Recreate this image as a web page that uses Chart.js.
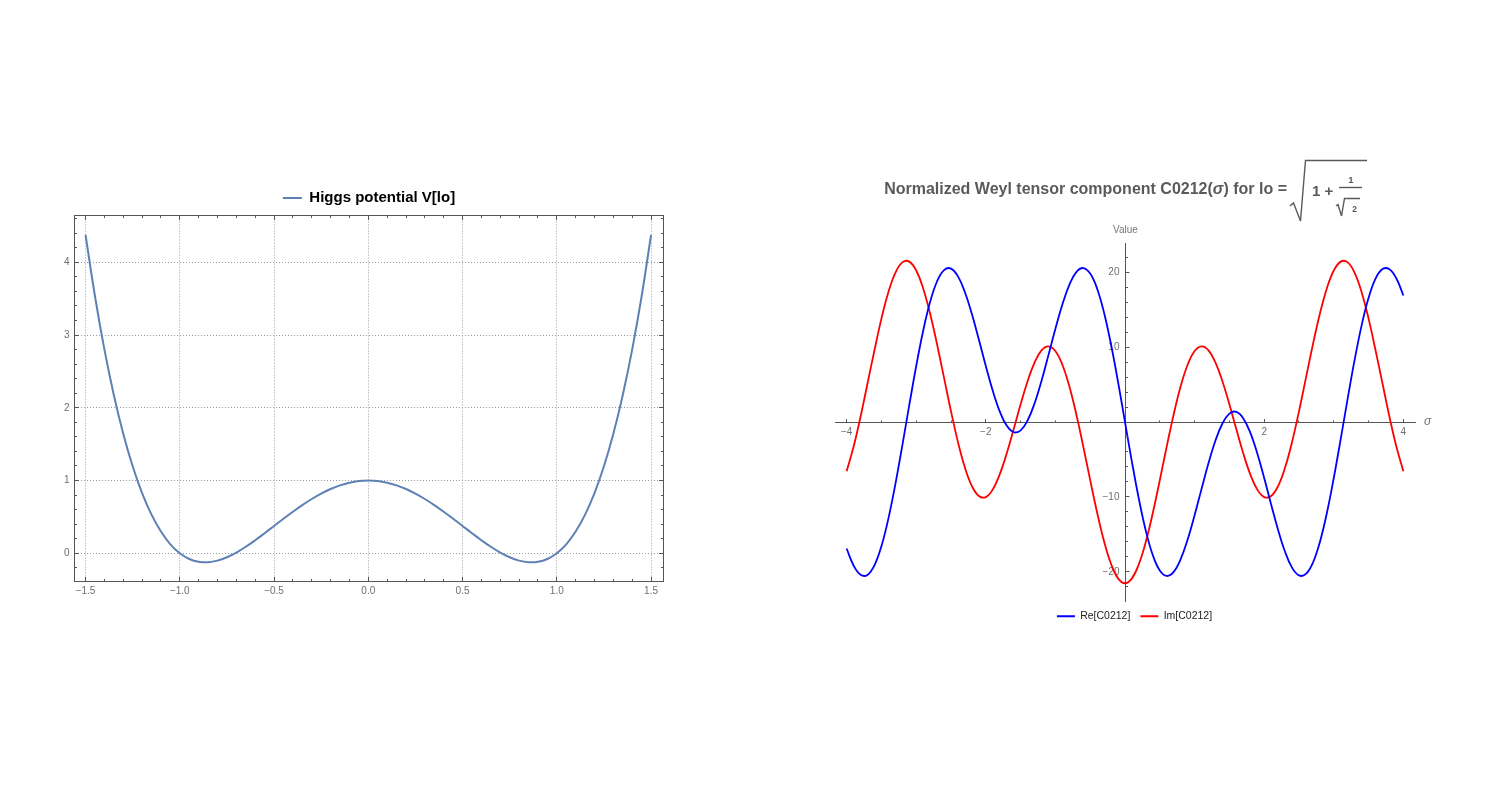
<!DOCTYPE html>
<html>
<head>
<meta charset="utf-8">
<title>Higgs potential and Weyl tensor component</title>
<script src="https://cdn.jsdelivr.net/npm/chart.js@4.4.0/dist/chart.umd.min.js"></script>
<style>
  html, body { margin: 0; padding: 0; background: #fff; }
  body { width: 1500px; height: 787px; position: relative; overflow: hidden; }
  canvas { position: absolute; top: 0; }
  #higgsChart { left: 0; }
  #weylChart { left: 750px; }
  #weylTitle { position: absolute; left: 0; top: 0; pointer-events: none; }
</style>
</head>
<body>
<canvas id="higgsChart" width="750" height="787"></canvas>
<canvas id="weylChart" width="750" height="787"></canvas>
<svg id="weylTitle" width="1500" height="787">
  <g fill="#5a5a5a" font-family="'Liberation Sans', Arial, sans-serif" font-weight="bold">
    <text x="1287" y="194" font-size="16" text-anchor="end">Normalized Weyl tensor component C0212(<tspan font-style="italic">σ</tspan>) for lo =</text>
    <text x="1312" y="195.5" font-size="15">1 +</text>
    <text x="1351" y="183" font-size="9.5" text-anchor="middle">1</text>
    <text x="1354.5" y="212" font-size="8.5" text-anchor="middle">2</text>
  </g>
  <g stroke="#5a5a5a" fill="none" stroke-width="1.4">
    <path d="M1290 206 L1293.5 203 L1300.5 221 L1305.5 160.5 L1367 160.5"/>
    <path d="M1339 187.5 H1362"/>
    <path d="M1336 206 L1338 204.5 L1341.5 216 L1344.5 198.5 H1360"/>
  </g>
</svg>
<script>
// ===================================
// Data
// ===================================
const higgsX = [
  -1.5, -1.45, -1.4, -1.35, -1.3, -1.25, -1.2, -1.15, -1.1, -1.05,
  -1.0, -0.95, -0.9, -0.85, -0.8, -0.75, -0.7, -0.65, -0.6, -0.55,
  -0.5, -0.45, -0.4, -0.35, -0.3, -0.25, -0.2, -0.15, -0.1, -0.05,
  0.0, 0.05, 0.1, 0.15, 0.2, 0.25, 0.3, 0.35, 0.4, 0.45,
  0.5, 0.55, 0.6, 0.65, 0.7, 0.75, 0.8, 0.85, 0.9, 0.95,
  1.0, 1.05, 1.1, 1.15, 1.2, 1.25, 1.3, 1.35, 1.4, 1.45, 1.5,
];
const higgsV = [
  4.375, 3.5335, 2.8032, 2.1755, 1.6422, 1.1953, 0.8272, 0.5305, 0.2982, 0.1235,
  0.0, -0.0785, -0.1178, -0.1235, -0.1008, -0.0547, 0.0102, 0.0895, 0.1792, 0.2755,
  0.375, 0.4745, 0.5712, 0.6625, 0.7462, 0.8203, 0.8832, 0.9335, 0.9702, 0.9925,
  1.0, 0.9925, 0.9702, 0.9335, 0.8832, 0.8203, 0.7462, 0.6625, 0.5712, 0.4745,
  0.375, 0.2755, 0.1792, 0.0895, 0.0102, -0.0547, -0.1008, -0.1235, -0.1178, -0.0785,
  0.0, 0.1235, 0.2982, 0.5305, 0.8272, 1.1953, 1.6422, 2.1755, 2.8032, 3.5335, 4.375,
];
const higgsXTicks = [-1.5, -1.0, -0.5, 0.0, 0.5, 1.0, 1.5];
const higgsYTicks = [0, 1, 2, 3, 4];

const sigma = [
  -4.0, -3.9, -3.8, -3.7, -3.6, -3.5, -3.4, -3.3, -3.2, -3.1,
  -3.0, -2.9, -2.8, -2.7, -2.6, -2.5, -2.4, -2.3, -2.2, -2.1,
  -2.0, -1.9, -1.8, -1.7, -1.6, -1.5, -1.4, -1.3, -1.2, -1.1,
  -1.0, -0.9, -0.8, -0.7, -0.6, -0.5, -0.4, -0.3, -0.2, -0.1,
  0.0, 0.1, 0.2, 0.3, 0.4, 0.5, 0.6, 0.7, 0.8, 0.9,
  1.0, 1.1, 1.2, 1.3, 1.4, 1.5, 1.6, 1.7, 1.8, 1.9,
  2.0, 2.1, 2.2, 2.3, 2.4, 2.5, 2.6, 2.7, 2.8, 2.9,
  3.0, 3.1, 3.2, 3.3, 3.4, 3.5, 3.6, 3.7, 3.8, 3.9, 4.0,
];
const reC0212 = [
  -16.87, -19.13, -20.37, -20.39, -19.12, -16.56, -12.88, -8.31, -3.14, 2.24,
  7.47, 12.17, 16.02, 18.77, 20.26, 20.46, 19.42, 17.31, 14.39, 10.99,
  7.46, 4.16, 1.42, -0.48, -1.35, -1.12, 0.2, 2.47, 5.48, 8.92,
  12.44, 15.68, 18.3, 19.99, 20.53, 19.8, 17.77, 14.54, 10.3, 5.34,
  0.0, -5.34, -10.3, -14.54, -17.77, -19.8, -20.53, -19.99, -18.3, -15.68,
  -12.44, -8.92, -5.48, -2.47, -0.2, 1.12, 1.35, 0.48, -1.42, -4.16,
  -7.46, -10.99, -14.39, -17.31, -19.42, -20.46, -20.26, -18.77, -16.02, -12.17,
  -7.47, -2.24, 3.14, 8.31, 12.88, 16.56, 19.12, 20.39, 20.37, 19.13, 16.87,
];
const imC0212 = [
  -6.57, -3.31, 0.7, 5.13, 9.56, 13.79, 17.31, 19.88, 21.28, 21.39,
  20.2, 17.81, 14.43, 10.34, 5.88, 1.42, -2.68, -6.08, -8.54, -9.87,
  -10.01, -9.0, -6.98, -4.21, -0.98, 2.36, 5.44, 7.93, 9.55, 10.09,
  9.46, 7.64, 4.77, 1.04, -3.25, -7.76, -12.11, -15.94, -18.94, -20.85,
  -21.5, -20.85, -18.94, -15.94, -12.11, -7.76, -3.25, 1.04, 4.77, 7.64,
  9.46, 10.09, 9.55, 7.93, 5.44, 2.36, -0.98, -4.21, -6.98, -9.0,
  -10.01, -9.87, -8.54, -6.08, -2.68, 1.42, 5.88, 10.34, 14.43, 17.81,
  20.2, 21.39, 21.28, 19.88, 17.31, 13.79, 9.56, 5.13, 0.7, -3.31, -6.57,
];
const weylXTicks = [-4, -2, 2, 4];
const weylYTicks = [-20, -10, 10, 20];

// ===================================
// Helpers
// ===================================
Chart.defaults.font.family = '"Liberation Sans", Arial, sans-serif';

function formatTick(value, digits) {
  const text = Math.abs(value).toFixed(digits);
  return value < 0 ? "\u2212" + text : text;
}

function toPoints(xs, ys) {
  return xs.map((x, i) => ({ x: x, y: ys[i] }));
}

const TICK_COLOR = "#6e6e6e";
const AXIS_COLOR = "#555555";

// Mathematica style frame with inward ticks on all four sides
const higgsFrame = {
  id: "higgsFrame",
  afterDraw(chart) {
    const { ctx, chartArea: area } = chart;
    const xs = chart.scales.x;
    const ys = chart.scales.y;
    ctx.save();
    ctx.strokeStyle = AXIS_COLOR;
    ctx.lineWidth = 1;
    ctx.strokeRect(area.left, area.top, area.right - area.left, area.bottom - area.top);
    ctx.beginPath();
    for (let k = -15; k <= 15; k++) {
      const px = Math.round(xs.getPixelForValue(k / 10) - 0.5) + 0.5;
      const len = k % 5 === 0 ? 4.5 : 2.5;
      ctx.moveTo(px, area.bottom);
      ctx.lineTo(px, area.bottom - len);
      ctx.moveTo(px, area.top);
      ctx.lineTo(px, area.top + len);
    }
    for (let k = -1; k <= 23; k++) {
      const py = Math.round(ys.getPixelForValue(k / 5) - 0.5) + 0.5;
      const len = k % 5 === 0 ? 4.5 : 2.5;
      ctx.moveTo(area.left, py);
      ctx.lineTo(area.left + len, py);
      ctx.moveTo(area.right, py);
      ctx.lineTo(area.right - len, py);
    }
    ctx.stroke();
    ctx.restore();
  },
};

// Ticks on the centred axes plus the axis labels
const weylAxesDecor = {
  id: "weylAxesDecor",
  afterDraw(chart) {
    const { ctx, chartArea: area } = chart;
    const xs = chart.scales.x;
    const ys = chart.scales.y;
    const x0 = Math.round(xs.getPixelForValue(0) - 0.5) + 0.5;
    const y0 = Math.round(ys.getPixelForValue(0) - 0.5) + 0.5;
    ctx.save();
    ctx.strokeStyle = AXIS_COLOR;
    ctx.lineWidth = 1;
    ctx.beginPath();
    for (let k = -8; k <= 8; k++) {
      if (k === 0) continue;
      const px = Math.round(xs.getPixelForValue(k / 2) - 0.5) + 0.5;
      const len = k % 4 === 0 ? 3.5 : 2;
      ctx.moveTo(px, y0);
      ctx.lineTo(px, y0 - len);
    }
    for (let k = -11; k <= 11; k++) {
      if (k === 0) continue;
      const py = Math.round(ys.getPixelForValue(k * 2) - 0.5) + 0.5;
      const len = k % 5 === 0 ? 4 : 2.5;
      ctx.moveTo(x0, py);
      ctx.lineTo(x0 + len, py);
    }
    ctx.stroke();

    ctx.fillStyle = "#777777";
    ctx.textBaseline = "middle";
    ctx.textAlign = "center";
    ctx.font = '10px "Liberation Sans", Arial, sans-serif';
    ctx.fillText("Value", x0, area.top - 13);
    ctx.textAlign = "left";
    ctx.font = 'italic 12px "Liberation Sans", Arial, sans-serif';
    ctx.fillText("σ", area.right + 9, y0 - 1);
    ctx.restore();
  },
};

// ===================================
// Higgs potential chart
// ===================================
new Chart(document.getElementById("higgsChart"), {
  type: "line",
  data: {
    datasets: [
      {
        label: "Higgs potential V[lo]",
        data: toPoints(higgsX, higgsV),
        borderColor: "#5E81B5",
        backgroundColor: "#5E81B5",
        borderWidth: 2,
        pointRadius: 0,
        tension: 0.4,
        fill: false,
      },
    ],
  },
  options: {
    responsive: false,
    animation: false,
    layout: { padding: { left: 40, right: 52, top: 180.5, bottom: 180.5 } },
    plugins: {
      legend: {
        position: "top",
        labels: {
          boxWidth: 19,
          boxHeight: 0,
          padding: 10,
          color: "#000000",
          font: { size: 15, weight: "bold" },
        },
      },
      tooltip: { enabled: false },
    },
    scales: {
      x: {
        type: "linear",
        min: -1.5586,
        max: 1.566,
        afterBuildTicks: (scale) => {
          scale.ticks = higgsXTicks.map((v) => ({ value: v }));
        },
        afterFit: (scale) => {
          scale.height = 25;
        },
        grid: { color: "#9a9a9a", drawTicks: false },
        border: { display: false, dash: [1, 2] },
        ticks: {
          padding: 4,
          color: TICK_COLOR,
          font: { size: 10 },
          maxRotation: 0,
          autoSkip: false,
          callback: (v) => formatTick(v, 1),
        },
      },
      y: {
        type: "linear",
        min: -0.388,
        max: 4.643,
        afterBuildTicks: (scale) => {
          scale.ticks = higgsYTicks.map((v) => ({ value: v }));
        },
        afterFit: (scale) => {
          scale.width = 34.5;
        },
        grid: { color: "#9a9a9a", drawTicks: false },
        border: { display: false, dash: [1, 2] },
        ticks: {
          padding: 5,
          color: TICK_COLOR,
          font: { size: 10 },
          callback: (v) => formatTick(v, 0),
        },
      },
      y2: {
        type: "linear",
        position: "right",
        afterFit: (scale) => {
          scale.width = 34.5;
        },
        grid: { display: false },
        border: { display: false },
        ticks: { display: false },
      },
    },
  },
  plugins: [higgsFrame],
});

// ===================================
// Weyl tensor component chart
// ===================================
new Chart(document.getElementById("weylChart"), {
  type: "line",
  data: {
    datasets: [
      {
        label: "Re[C0212]",
        data: toPoints(sigma, reC0212),
        borderColor: "#0000FF",
        backgroundColor: "#0000FF",
        borderWidth: 1.8,
        pointRadius: 0,
        tension: 0.4,
        fill: false,
      },
      {
        label: "Im[C0212]",
        data: toPoints(sigma, imC0212),
        borderColor: "#FF0000",
        backgroundColor: "#FF0000",
        borderWidth: 1.8,
        pointRadius: 0,
        tension: 0.4,
        fill: false,
      },
    ],
  },
  options: {
    responsive: false,
    animation: false,
    layout: { padding: { left: 85, right: 66, top: 243, bottom: 155.5 } },
    plugins: {
      legend: {
        position: "bottom",
        labels: {
          boxWidth: 18,
          boxHeight: 0,
          padding: 10,
          color: "#222222",
          font: { size: 10.5 },
        },
      },
      tooltip: { enabled: false },
    },
    scales: {
      x: {
        type: "linear",
        position: { y: 0 },
        min: -4.167,
        max: 4.167,
        afterBuildTicks: (scale) => {
          scale.ticks = weylXTicks.map((v) => ({ value: v }));
        },
        afterFit: (scale) => {
          scale.height = 0;
        },
        grid: { display: false, drawTicks: false },
        border: { display: true, color: AXIS_COLOR, width: 1 },
        ticks: {
          padding: 4,
          color: TICK_COLOR,
          font: { size: 10 },
          maxRotation: 0,
          autoSkip: false,
          callback: (v) => formatTick(v, 0),
        },
      },
      y: {
        type: "linear",
        position: { x: 0 },
        min: -23.87,
        max: 23.87,
        afterBuildTicks: (scale) => {
          scale.ticks = weylYTicks.map((v) => ({ value: v }));
        },
        afterFit: (scale) => {
          scale.width = 0;
        },
        grid: { display: false, drawTicks: false },
        border: { display: true, color: AXIS_COLOR, width: 1 },
        ticks: {
          padding: 6,
          color: TICK_COLOR,
          font: { size: 10 },
          autoSkip: false,
          // labels sit left of the centred axis: keep a small gap
          callback: (v) => formatTick(v, 0) + "\u00a0\u00a0",
        },
      },
      y2: {
        type: "linear",
        position: "right",
        afterFit: (scale) => {
          scale.width = 19;
        },
        grid: { display: false },
        border: { display: false },
        ticks: { display: false },
      },
    },
  },
  plugins: [weylAxesDecor],
});
</script>
</body>
</html>
